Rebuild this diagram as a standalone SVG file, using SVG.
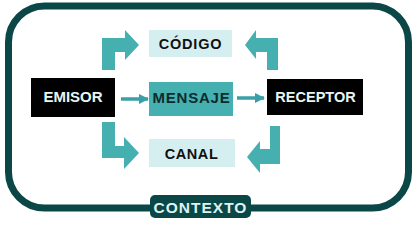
<svg xmlns="http://www.w3.org/2000/svg" width="420" height="228" viewBox="0 0 420 228">
<defs>
<style>
.t{font-family:"Liberation Sans",Arial,sans-serif;font-weight:bold;text-anchor:middle}
.light{fill:#d5eff1}
.big{fill:#46b0b1}
.dark{fill:#0c4748}
</style>
<marker id="ah" viewBox="0 0 10 10" refX="9" refY="5" markerWidth="3" markerHeight="3" orient="auto" markerUnits="strokeWidth">
<path d="M0,0 L10,5 L0,10 Z" fill="#3a9fa6"/>
</marker>
</defs>
<rect width="420" height="228" fill="#ffffff"/>
<g id="contexto">
<rect x="8.5" y="6" width="400" height="202" rx="36" ry="36" fill="none" stroke="#0c4748" stroke-width="7"/>
<rect class="dark" x="150" y="195" width="101" height="23" rx="5"/>
<text class="t" x="200.5" y="213" font-size="15.5" letter-spacing="1" fill="#dff3f3">CONTEXTO</text>
</g>
<g id="codigo">
<rect class="light" x="149" y="30" width="83" height="27"/>
<text class="t" x="190.5" y="49" font-size="14.5" letter-spacing="0.8" fill="#111">CÓDIGO</text>
</g>
<g id="canal">
<rect class="light" x="149" y="139" width="86" height="28"/>
<text class="t" x="191.5" y="158.5" font-size="14.5" letter-spacing="0.6" fill="#111">CANAL</text>
</g>
<g id="emisor">
<rect x="31" y="78" width="84" height="39" fill="#000"/>
<text class="t" x="73" y="102" font-size="15" fill="#e6f6f6">EMISOR</text>
</g>
<g id="mensaje">
<rect class="big" x="149" y="82" width="84" height="34"/>
<text class="t" x="191.5" y="102.5" font-size="15" letter-spacing="0.8" fill="#0d2a2c">MENSAJE</text>
</g>
<g id="receptor">
<rect x="267" y="79" width="96" height="36" fill="#000"/>
<text class="t" x="315.5" y="102" font-size="14.5" fill="#e6f6f6">RECEPTOR</text>
</g>
<g id="connectors">
<line x1="121" y1="99" x2="148" y2="99" stroke="#3a9fa6" stroke-width="3.5" marker-end="url(#ah)"/>
<line x1="237" y1="98" x2="264" y2="98" stroke="#3a9fa6" stroke-width="3.5" marker-end="url(#ah)"/>
<polygon class="big" points="102,70 102,38 125,38 125,30 139,45 125,60 125,52 115,52 115,70"/>
<polygon class="big" points="278,70 278,38 256,38 256,30 245,45 256,59 256,52 267,52 267,70"/>
<polygon class="big" points="102,122 102,158 124,158 124,169 139,153 124,137 124,146 115,146 115,122"/>
<polygon class="big" points="280,126 280,164 260,164 260,173 247,157 260,141 260,149 270,149 270,126"/>
</g>
</svg>
